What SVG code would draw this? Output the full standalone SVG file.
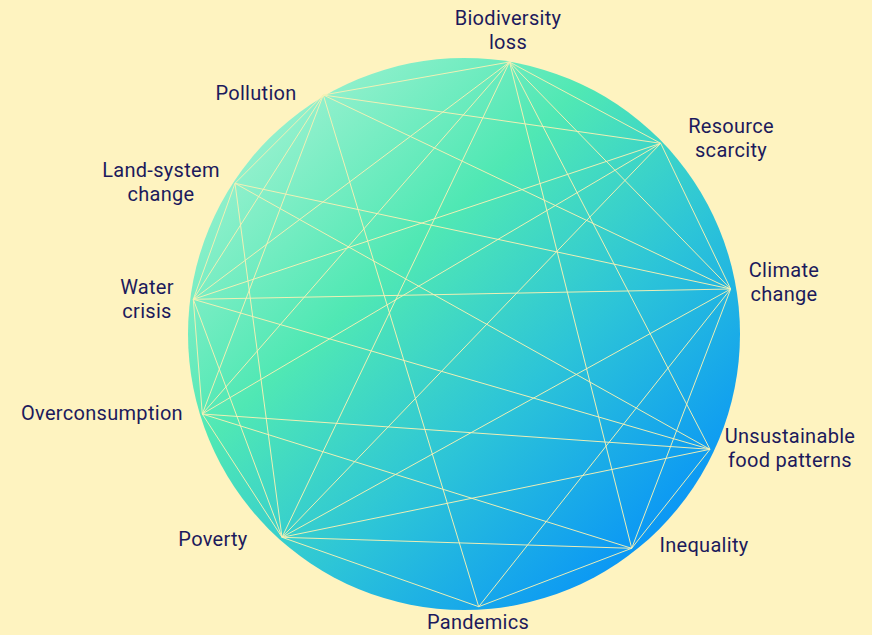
<svg xmlns="http://www.w3.org/2000/svg" width="872" height="635" viewBox="0 0 872 635">
<defs>
<linearGradient id="g" x1="0.15" y1="0.1" x2="0.9" y2="0.9">
<stop offset="0" stop-color="#98F1CF"/>
<stop offset="0.32" stop-color="#50E8B4"/>
<stop offset="0.62" stop-color="#2CC4D8"/>
<stop offset="1" stop-color="#058FFA"/>
</linearGradient>
<style>
.lbl{font-family:Roboto,"Liberation Sans",sans-serif;font-size:20px;letter-spacing:0.3px;fill:#1C1A5C;text-anchor:middle}
.e{stroke:#F6F0B4;stroke-width:1;fill:none;opacity:0.95}
</style>
</defs>
<rect width="872" height="635" fill="#FEF3C0"/>
<circle cx="464" cy="334" r="276" fill="url(#g)"/>
<g id="connectors">
<line class="e" x1="509.5" y1="62" x2="323.3" y2="95"/>
<line class="e" x1="509.5" y1="62" x2="660.7" y2="143.3"/>
<line class="e" x1="509.5" y1="62" x2="730.7" y2="289"/>
<line class="e" x1="509.5" y1="62" x2="193.3" y2="299.3"/>
<line class="e" x1="509.5" y1="62" x2="202.3" y2="414"/>
<line class="e" x1="509.5" y1="62" x2="282" y2="537.3"/>
<line class="e" x1="509.5" y1="62" x2="631.7" y2="548.3"/>
<line class="e" x1="509.5" y1="62" x2="710" y2="449.3"/>
<line class="e" x1="323.3" y1="95" x2="660.7" y2="143.3"/>
<line class="e" x1="323.3" y1="95" x2="730.7" y2="289"/>
<line class="e" x1="323.3" y1="95" x2="235" y2="183.3"/>
<line class="e" x1="323.3" y1="95" x2="193.3" y2="299.3"/>
<line class="e" x1="323.3" y1="95" x2="202.3" y2="414"/>
<line class="e" x1="323.3" y1="95" x2="478.7" y2="606.7"/>
<line class="e" x1="235" y1="183.3" x2="193.3" y2="299.3"/>
<line class="e" x1="235" y1="183.3" x2="730.7" y2="289"/>
<line class="e" x1="235" y1="183.3" x2="282" y2="537.3"/>
<line class="e" x1="235" y1="183.3" x2="710" y2="449.3"/>
<line class="e" x1="193.3" y1="299.3" x2="202.3" y2="414"/>
<line class="e" x1="193.3" y1="299.3" x2="660.7" y2="143.3"/>
<line class="e" x1="193.3" y1="299.3" x2="730.7" y2="289"/>
<line class="e" x1="193.3" y1="299.3" x2="710" y2="449.3"/>
<line class="e" x1="193.3" y1="299.3" x2="282" y2="537.3"/>
<line class="e" x1="202.3" y1="414" x2="660.7" y2="143.3"/>
<line class="e" x1="202.3" y1="414" x2="282" y2="537.3"/>
<line class="e" x1="202.3" y1="414" x2="710" y2="449.3"/>
<line class="e" x1="202.3" y1="414" x2="631.7" y2="548.3"/>
<line class="e" x1="282" y1="537.3" x2="660.7" y2="143.3"/>
<line class="e" x1="282" y1="537.3" x2="730.7" y2="289"/>
<line class="e" x1="282" y1="537.3" x2="710" y2="449.3"/>
<line class="e" x1="282" y1="537.3" x2="631.7" y2="548.3"/>
<line class="e" x1="282" y1="537.3" x2="478.7" y2="606.7"/>
<line class="e" x1="478.7" y1="606.7" x2="730.7" y2="289"/>
<line class="e" x1="478.7" y1="606.7" x2="631.7" y2="548.3"/>
<line class="e" x1="631.7" y1="548.3" x2="710" y2="449.3"/>
<line class="e" x1="631.7" y1="548.3" x2="730.7" y2="289"/>
<line class="e" x1="660.7" y1="143.3" x2="730.7" y2="289"/>
</g>
<g id="biodiversity-loss"><text class="lbl" x="508" y="25">Biodiversity</text><text class="lbl" x="508" y="49">loss</text></g>
<g id="pollution"><text class="lbl" x="256" y="100">Pollution</text></g>
<g id="resource-scarcity"><text class="lbl" x="731" y="133">Resource</text><text class="lbl" x="731" y="157">scarcity</text></g>
<g id="land-system-change"><text class="lbl" x="161" y="177">Land-system</text><text class="lbl" x="161" y="201">change</text></g>
<g id="climate-change"><text class="lbl" x="784" y="277">Climate</text><text class="lbl" x="784" y="301">change</text></g>
<g id="water-crisis"><text class="lbl" x="147" y="294">Water</text><text class="lbl" x="147" y="318">crisis</text></g>
<g id="overconsumption"><text class="lbl" x="102" y="420">Overconsumption</text></g>
<g id="unsustainable-food-patterns"><text class="lbl" x="790" y="443">Unsustainable</text><text class="lbl" x="790" y="467">food patterns</text></g>
<g id="poverty"><text class="lbl" x="213" y="546">Poverty</text></g>
<g id="inequality"><text class="lbl" x="704" y="552">Inequality</text></g>
<g id="pandemics"><text class="lbl" x="478" y="629">Pandemics</text></g>
</svg>
